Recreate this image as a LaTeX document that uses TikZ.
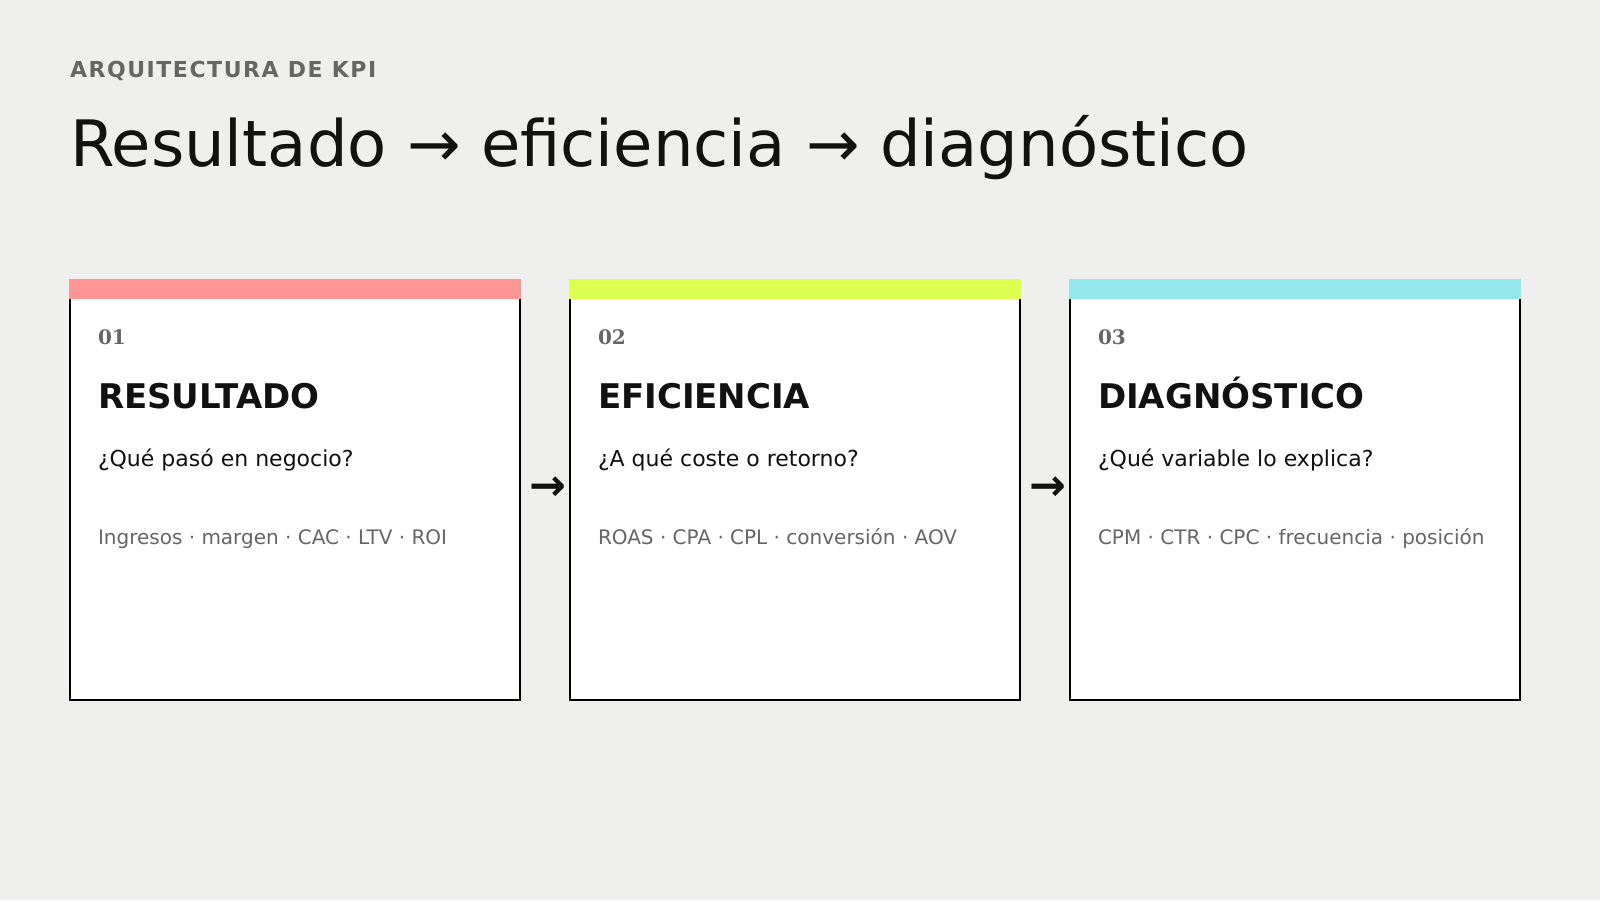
\documentclass[tikz,border=0pt]{standalone}
\usepackage{fontspec}
\setmainfont{DejaVu Sans}
\newfontfamily\numfont{DejaVu Serif}
\usetikzlibrary{backgrounds}
\definecolor{paper}{HTML}{EFEFED}
\definecolor{ink}{HTML}{111111}
\definecolor{muted}{HTML}{666666}
\definecolor{barRes}{HTML}{FF9696}
\definecolor{barEfi}{HTML}{DDFF50}
\definecolor{barDia}{HTML}{94E8EC}
\tikzstyle{board}=[x=0.75pt, y=-0.75pt, every node/.style={inner sep=0pt, outer sep=0pt}]
\tikzstyle{kicker}=[anchor=base west, text=muted, font={\bfseries\fontsize{16.5pt}{20pt}\selectfont\addfontfeatures{LetterSpace=7}}]
\tikzstyle{headline}=[anchor=base west, text=ink, font={\fontsize{48pt}{56pt}\selectfont}]
\tikzstyle{card}=[rectangle, draw=black, line width=1.5pt, fill=white, anchor=north west, minimum width=337.5pt, minimum height=315pt]
\tikzstyle{num}=[anchor=base west, text=muted, font={\numfont\bfseries\fontsize{15pt}{18pt}\selectfont}]
\tikzstyle{ctitle}=[anchor=base west, text=ink, font={\bfseries\fontsize{25.5pt}{30pt}\selectfont}]
\tikzstyle{ask}=[anchor=base west, text=ink, font={\fontsize{16.5pt}{20pt}\selectfont}]
\tikzstyle{kpis}=[anchor=base west, text=muted, font={\fontsize{15pt}{18pt}\selectfont}]
\tikzstyle{flow}=[anchor=base, text=ink, font={\bfseries\fontsize{33pt}{38pt}\selectfont}, xshift=2.25pt, yshift=-8pt]
\newcommand{\cardY}{280}
\newcommand{\barH}{20}
\newcommand{\numY}{344}
\newcommand{\titY}{408}
\newcommand{\askY}{466}
\newcommand{\kpiY}{544}

\begin{document}
\begin{tikzpicture}[board]
	\fill[paper] (0,0) rectangle (1600,900);
	\useasboundingbox (0,0) rectangle (1600,900);
	
	\draw (70,77) node[kicker] (kick) {ARQUITECTURA DE KPI};
	\draw (70,166) node[headline] (head) {Resultado → eficiencia → diagnóstico};
	%%
	\node[card] (c1) at (70,\cardY) {};
	\fill[barRes] (c1.north west) ++(-1,-1) rectangle ++(452,\barH);
	\draw (98,\numY) node[num] (n1) {01};
	\draw (98,\titY) node[ctitle] (t1) {RESULTADO};
	\draw (98,\askY) node[ask] (q1) {¿Qué pasó en negocio?};
	\draw (98,\kpiY) node[kpis] (k1) {Ingresos · margen · CAC · LTV · ROI};
	%%
	\node[card] (c2) at (570,\cardY) {};
	\fill[barEfi] (c2.north west) ++(-1,-1) rectangle ++(452,\barH);
	\draw (598,\numY) node[num] (n2) {02};
	\draw (598,\titY) node[ctitle] (t2) {EFICIENCIA};
	\draw (598,\askY) node[ask] (q2) {¿A qué coste o retorno?};
	\draw (598,\kpiY) node[kpis] (k2) {ROAS · CPA · CPL · conversión · AOV};
	%%
	\node[card] (c3) at (1070,\cardY) {};
	\fill[barDia] (c3.north west) ++(-1,-1) rectangle ++(452,\barH);
	\draw (1098,\numY) node[num] (n3) {03};
	\draw (1098,\titY) node[ctitle] (t3) {DIAGNÓSTICO};
	\draw (1098,\askY) node[ask] (q3) {¿Qué variable lo explica?};
	\draw (1098,\kpiY) node[kpis] (k3) {CPM · CTR · CPC · frecuencia · posición};
	
	%%%%
	\path (c1.east) -- (c2.west) node[midway, flow] (a12) {→};
	\path (c2.east) -- (c3.west) node[midway, flow] (a23) {→};
\end{tikzpicture}
\end{document}
